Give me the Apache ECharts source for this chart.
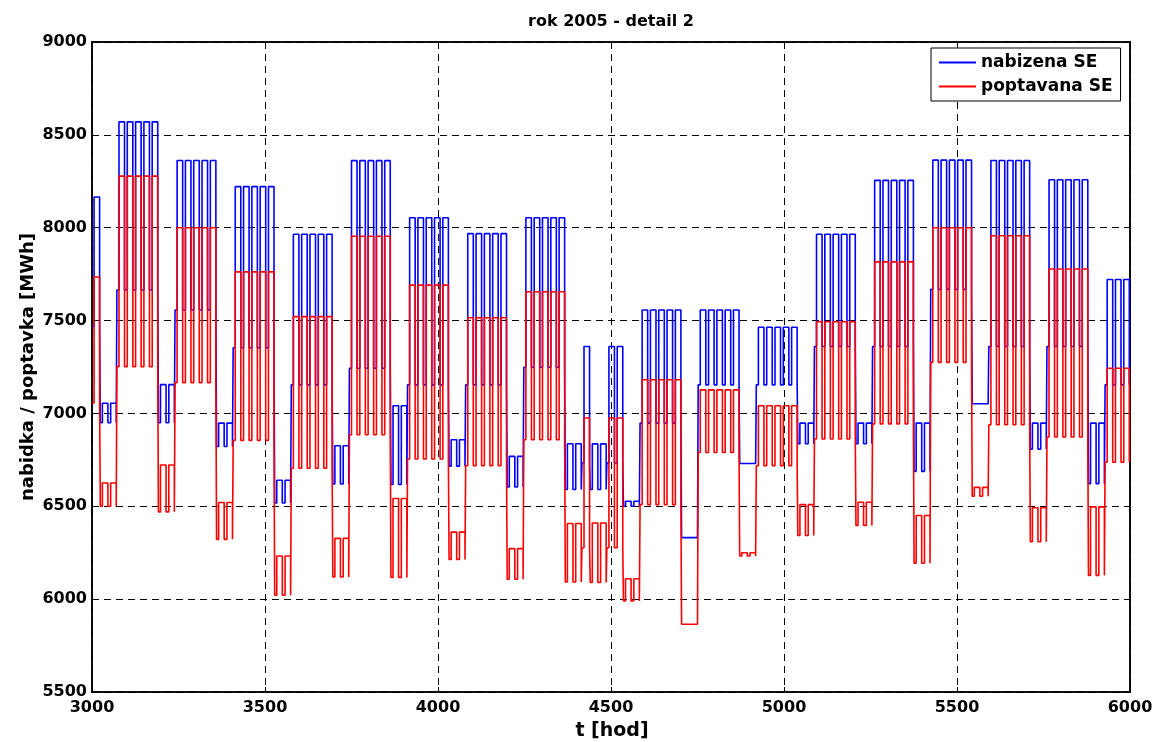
<!DOCTYPE html>
<html><head><meta charset="utf-8">
<script src="https://cdn.jsdelivr.net/npm/echarts@6/dist/echarts.min.js"></script>
<style>html,body{margin:0;padding:0;background:#fff}#c{width:1168px;height:742px}</style>
</head><body><div id="c"></div>
<script>
// Tick labels / axis ranges
const xTicks = [3000, 3500, 4000, 4500, 5000, 5500, 6000];
const yTicks = [5500, 6000, 6500, 7000, 7500, 8000, 8500, 9000];
const startHour = 3000;          // first hour shown (Friday 0:00)
const dayStartHour = 6;          // day block begins
const dayEndHour = 22;           // night block begins
const seriesNames = ['nabizena SE', 'poptavana SE'];

// Per-day levels (one value per day, day 0 = hour 3000)
const blueDay = [
 8165, 7055,7055,
 8570,8570,8570,8570,8570, 7155,7155,
 8362,8362,8362,8362,8362, 6948,6948,
 8221,8221,8221,8221,8221, 6640,6640,
 7965,7965,7965,7965,7965, 6826,6826,
 8361,8361,8361,8361,8361, 7041,7041,
 8054,8054,8054,8054,8054, 6858,6858,
 7968,7968,7968,7968,7968, 6769,6769,
 8054,8054,8054,8054,8054, 6837,6837,
 7360,6836,6836,7360,7360, 6527,6527,
 7557,7557,7557,7557,7557, 6331,6331,
 7557,7557,7557,7557,7557, 6730,6730,
 7464,7464,7464,7464,7464, 6948,6948,
 7965,7965,7965,7965,7965, 6948,6948,
 8255,8255,8255,8255,8255, 6948,6948,
 8364,8364,8364,8364,8364, 7052,7052,
 8362,8362,8362,8362,8362, 6948,6948,
 8258,8258,8258,8258,8258, 6948,6948,
 7721,7721,7721
];
const blueNight = [
 7467, 6950,6950,
 7665,7665,7665,7665,7665, 6950,6950,
 7557,7557,7557,7557,7557, 6822,6822,
 7354,7354,7354,7354,7354, 6518,6518,
 7154,7154,7154,7154,7154, 6620,6620,
 7243,7243,7243,7243,7243, 6617,6617,
 7154,7154,7154,7154,7154, 6716,6716,
 7154,7154,7154,7154,7154, 6604,6604,
 7249,7249,7249,7249,7249, 6590,6590,
 6733,6590,6590,6733,6733, 6500,6500,
 6948,6948,6948,6948,6948, 6331,6331,
 7154,7154,7154,7154,7154, 6730,6730,
 7154,7154,7154,7154,7154, 6837,6837,
 7360,7360,7360,7360,7360, 6837,6837,
 7360,7360,7360,7360,7360, 6688,6688,
 7668,7668,7668,7668,7668, 7052,7052,
 7360,7360,7360,7360,7360, 6808,6808,
 7360,7360,7360,7360,7360, 6622,6622,
 7154,7154,7154
];
const redDay = [
 7735, 6625,6625,
 8278,8278,8278,8278,8278, 6722,6722,
 8000,8000,8000,8000,8000, 6520,6520,
 7762,7762,7762,7762,7762, 6232,6232,
 7521,7521,7521,7521,7521, 6327,6327,
 7954,7954,7954,7954,7954, 6542,6542,
 7691,7691,7691,7691,7691, 6361,6361,
 7515,7515,7515,7515,7515, 6272,6272,
 7655,7655,7655,7655,7655, 6407,6407,
 6975,6410,6410,6975,6975, 6110,6110,
 7181,7181,7181,7181,7181, 5865,5865,
 7127,7127,7127,7127,7127, 6250,6250,
 7041,7041,7041,7041,7041, 6509,6509,
 7494,7494,7494,7494,7494, 6522,6522,
 7816,7816,7816,7816,7816, 6450,6450,
 8000,8000,8000,8000,8000, 6602,6602,
 7957,7957,7957,7957,7957, 6492,6492,
 7778,7778,7778,7778,7778, 6497,6497,
 7243,7243,7243
];
const redNight = [
 7056, 6500,6500,
 7252,7252,7252,7252,7252, 6470,6470,
 7166,7166,7166,7166,7166, 6322,6322,
 6855,6855,6855,6855,6855, 6021,6021,
 6705,6705,6705,6705,6705, 6119,6119,
 6885,6885,6885,6885,6885, 6117,6117,
 6755,6755,6755,6755,6755, 6214,6214,
 6719,6719,6719,6719,6719, 6107,6107,
 6858,6858,6858,6858,6858, 6092,6092,
 6277,6090,6090,6277,6277, 5990,5990,
 6509,6509,6509,6509,6509, 5865,5865,
 6790,6790,6790,6790,6790, 6232,6232,
 6719,6719,6719,6719,6719, 6343,6343,
 6862,6862,6862,6862,6862, 6397,6397,
 6944,6944,6944,6944,6944, 6193,6193,
 7275,7275,7275,7275,7275, 6554,6554,
 6939,6939,6939,6939,6939, 6309,6309,
 6873,6873,6873,6873,6873, 6128,6128,
 6737,6737,6737
];

function buildSteps(dayVals, nightVals) {
  const pts = [];
  for (let d = 0; d < dayVals.length; d++) {
    const h = startHour + d * 24;
    pts.push([h, nightVals[d]]);
    pts.push([h + dayStartHour, dayVals[d]]);
    pts.push([h + dayEndHour, nightVals[d]]);
  }
  const last = nightVals.length - 1;
  pts.push([startHour + dayVals.length * 24, nightVals[last]]);
  return pts;
}

const FONT = 'DejaVu Sans';
const plain = v => String(v);
const chart = echarts.init(document.getElementById('c'), null, {renderer: 'canvas'});
const gridDash = {type: [7, 5], color: '#000', width: 1};
chart.setOption({
  animation: false,
  backgroundColor: '#fff',
  grid: {left: 92, right: 38, top: 42, bottom: 50, show: true, borderColor: '#000', borderWidth: 1.5, containLabel: false},
  graphic: [
    {type: 'text', x: 611, y: 22, style: {text: 'rok 2005 - detail 2', font: 'bold 16px "DejaVu Sans"', fill: '#000', textAlign: 'center', textVerticalAlign: 'middle'}},
    {type: 'text', x: 612, y: 731, style: {text: 't [hod]', font: 'bold 19px "DejaVu Sans"', fill: '#000', textAlign: 'center', textVerticalAlign: 'middle'}},
    {type: 'text', x: 28, y: 367, rotation: Math.PI / 2, style: {text: 'nabidka / poptavka [MWh]', font: 'bold 18px "DejaVu Sans"', fill: '#000', textAlign: 'center', textVerticalAlign: 'middle'}}
  ],
  legend: {
    data: seriesNames.map(n => ({name: n, icon: 'rect'})),
    orient: 'vertical', left: 931, top: 48,
    padding: [6, 8, 6, 8], itemGap: 7, itemWidth: 37, itemHeight: 2,
    borderColor: '#000', borderWidth: 1, backgroundColor: '#fff', borderRadius: 0,
    textStyle: {fontFamily: FONT, fontWeight: 'bold', fontSize: 17, lineHeight: 17, color: '#000'}
  },
  xAxis: [
    {type: 'value', min: xTicks[0], max: xTicks[xTicks.length - 1], interval: 500,
     axisLine: {show: true, lineStyle: {color: '#000', width: 1.5}},
     axisTick: {show: true, inside: true, length: 5, lineStyle: {color: '#000'}},
     axisLabel: {margin: 8, color: '#000', fontFamily: FONT, fontWeight: 'bold', fontSize: 16, formatter: plain},
     splitLine: {show: true, lineStyle: gridDash}},
    {type: 'value', position: 'top', min: xTicks[0], max: xTicks[xTicks.length - 1], interval: 500,
     axisLine: {show: true, lineStyle: {color: '#000', width: 1.5}},
     axisTick: {show: true, inside: true, length: 5, lineStyle: {color: '#000'}},
     axisLabel: {show: false}, splitLine: {show: false}}
  ],
  yAxis: [
    {type: 'value', min: yTicks[0], max: yTicks[yTicks.length - 1], interval: 500,
     axisLine: {show: true, lineStyle: {color: '#000', width: 1.5}},
     axisTick: {show: true, inside: true, length: 5, lineStyle: {color: '#000'}},
     axisLabel: {margin: 5, color: '#000', fontFamily: FONT, fontWeight: 'bold', fontSize: 16, formatter: plain},
     splitLine: {show: true, lineStyle: gridDash}},
    {type: 'value', position: 'right', min: yTicks[0], max: yTicks[yTicks.length - 1], interval: 500,
     axisLine: {show: true, lineStyle: {color: '#000', width: 1.5}},
     axisTick: {show: true, inside: true, length: 5, lineStyle: {color: '#000'}},
     axisLabel: {show: false}, splitLine: {show: false}}
  ],
  series: [
    {name: seriesNames[0], type: 'line', step: 'end', symbol: 'none', xAxisIndex: 0, yAxisIndex: 0,
     data: buildSteps(blueDay, blueNight), color: '#0000ff', lineStyle: {color: '#0000ff', width: 1.6}},
    {name: seriesNames[1], type: 'line', step: 'end', symbol: 'none', xAxisIndex: 0, yAxisIndex: 0,
     data: buildSteps(redDay, redNight), color: '#ff0000', lineStyle: {color: '#ff0000', width: 1.6}}
  ]
});
</script></body></html>
